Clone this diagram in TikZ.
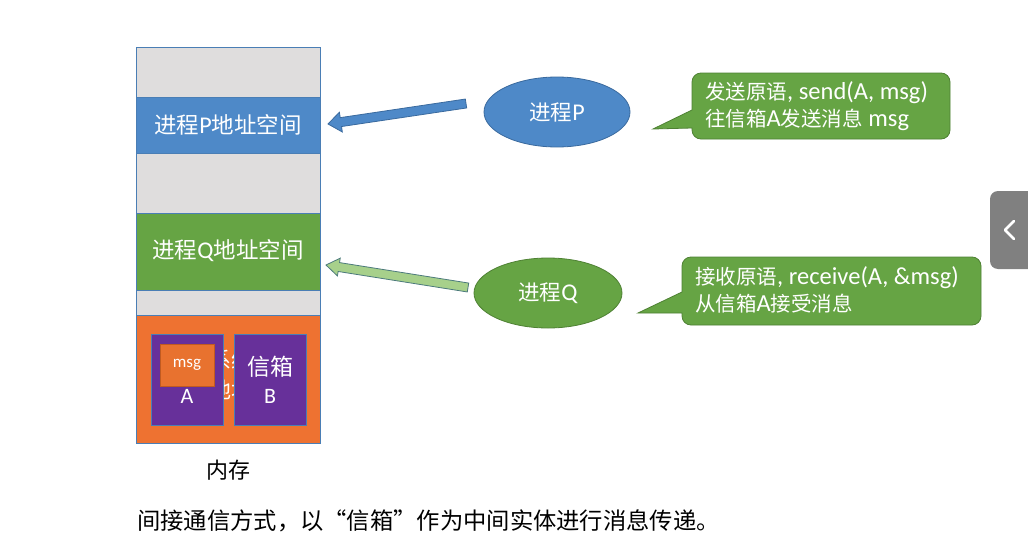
\documentclass[tikz,border=0pt]{standalone}
\usepackage{fontspec}
\setmainfont{Carlito}
\newfontfamily\cjk{Noto Sans CJK SC}
\usetikzlibrary{calc,shapes.geometric}
\definecolor{segGray}{HTML}{DFDDDD}
\definecolor{segLine}{HTML}{4A7EB5}
\definecolor{pBlue}{HTML}{4E89C8}
\definecolor{pBlueDark}{HTML}{3A6A9E}
\definecolor{qGreen}{HTML}{66A444}
\definecolor{qGreenDark}{HTML}{4E8133}
\definecolor{memOrange}{HTML}{EE7231}
\definecolor{msgOrange}{HTML}{E8722F}
\definecolor{msgLine}{HTML}{C05A20}
\definecolor{boxPurple}{HTML}{67309A}
\definecolor{arrQ}{HTML}{A7D08B}
\definecolor{arrQLine}{HTML}{4C7A7C}
\definecolor{tabGray}{HTML}{808080}
\newcommand{\zh}[1]{{\cjk #1}}
\tikzset{
  seg/.style={draw=segLine, line width=0.8pt},
  segtext/.style={text=white, font=\fontsize{24}{28}\selectfont},
  proc/.style={ellipse, minimum width=146pt, minimum height=70pt, line width=0.8pt, inner sep=0pt, text=white, font=\fontsize{24}{28}\selectfont},
  callout/.style={fill=qGreen, draw=qGreenDark, line width=0.8pt},
  calltext/.style={text=white, align=left, anchor=west, inner sep=0pt, font=\fontsize{24.5}{27}\selectfont},
  mbox/.style={fill=boxPurple, draw=segLine, line width=0.8pt},
}
\newcommand{\blockarrow}[5]{% tail, tip, fill, draw, head half width
  \filldraw[fill=#3, draw=#4, line width=0.8pt, line join=miter]
    ($(#1)!4.5pt!90:(#2)$) --
    ($($(#2)!13pt!(#1)$)!4.5pt!-90:(#1)$) --
    ($($(#2)!13pt!(#1)$)!#5!-90:(#1)$) --
    (#2) --
    ($($(#2)!13pt!(#1)$)!#5!90:(#1)$) --
    ($($(#2)!13pt!(#1)$)!4.5pt!90:(#1)$) --
    ($(#1)!4.5pt!-90:(#2)$) -- cycle;}
\begin{document}
\begin{tikzpicture}[x=1pt,y=-1pt]
\useasboundingbox (0,0) rectangle (1028,541);
\fill[white] (0,0) rectangle (1028,541);

% memory column
\filldraw[seg, fill=segGray] (136,47) rectangle (320,97);
\filldraw[seg, fill=pBlue] (136,97) rectangle (320,153);
\node[segtext] (memP) at (228,125) {{\cjk\fontsize{22.5}{28}\selectfont 进程}P{\cjk\fontsize{22.5}{28}\selectfont 地址空间}};
\filldraw[seg, fill=segGray] (136,153) rectangle (320,213);
\filldraw[seg, fill=qGreen] (136,213) rectangle (320,290);
\node[segtext] (memQ) at (228,251) {{\cjk\fontsize{22.5}{28}\selectfont 进程}Q{\cjk\fontsize{22.5}{28}\selectfont 地址空间}};
\filldraw[seg, fill=segGray] (136,290) rectangle (320,315);
\filldraw[seg, fill=memOrange] (136,315) rectangle (320,443);
\node[text=white, align=center, font=\cjk\fontsize{22}{30}\selectfont] (sysText) at (231,375) {系统\\地址};

% mailboxes
\filldraw[mbox] (151,334) rectangle (223,425);
\filldraw[fill=msgOrange, draw=msgLine, line width=0.8pt] (160,344) rectangle (214,386);
\node[text=white, font=\fontsize{17}{20}\selectfont] (msgA) at (187,365) {msg};
\node[text=white, font=\fontsize{22}{24}\selectfont] (labA) at (187,396) {A};
\filldraw[mbox] (234,334) rectangle (306,425);
\node[text=white, font=\cjk\fontsize{23}{26}\selectfont] (boxB) at (270,367) {信箱};
\node[text=white, font=\fontsize{22}{24}\selectfont] (labB) at (270,396) {B};

\node[font=\cjk\fontsize{22}{24}\selectfont] (mem) at (228,470) {内存};
\node[anchor=west, font=\cjk\fontsize{23.3}{26}\selectfont, inner sep=0pt] (caption) at (137,521) {间接通信方式，以“信箱”作为中间实体进行消息传递。};

% processes
\node[proc, fill=pBlue, draw=pBlueDark] (procP) at (557,112) {{\cjk\fontsize{21.5}{28}\selectfont 进程}P};
\node[proc, fill=qGreen, draw=qGreenDark, minimum width=148pt] (procQ) at (548,293) {{\cjk\fontsize{21.5}{28}\selectfont 进程}Q};

% arrows
\coordinate (pTail) at (466,103.5);
\coordinate (pTip) at (328,124);
\blockarrow{pTail}{pTip}{pBlue}{pBlueDark}{10pt}
\coordinate (qTail) at (468,287.5);
\coordinate (qTip) at (326,265);
\blockarrow{qTail}{qTip}{arrQ}{arrQLine}{9pt}

% callouts
\draw[callout] (692,110) -- (653,129) -- (692,128) [rounded corners=9pt] -- (692,139) -- (950,139) -- (950,73) -- (692,73) [sharp corners] -- cycle;
\node[calltext] (sendText) at (705,106) {{\cjk\fontsize{20.5}{27}\selectfont 发送原语}, send(A, msg)\\{\cjk\fontsize{20.5}{27}\selectfont 往信箱}A{\cjk\fontsize{20.5}{27}\selectfont 发送消息} msg};
\draw[callout] (682,292) -- (638,313) -- (682,313) [rounded corners=9pt] -- (682,325) -- (981,325) -- (981,257) -- (682,257) [sharp corners] -- cycle;
\node[calltext] (recvText) at (695,290) {{\cjk\fontsize{20.5}{27}\selectfont 接收原语}, receive(A, \&msg)\\{\cjk\fontsize{20.5}{27}\selectfont 从信箱}A{\cjk\fontsize{20.5}{27}\selectfont 接受消息}};

% side tab
\fill[tabGray, rounded corners=8pt] (990,191) rectangle (1040,269);
\draw[white, line width=2.6pt, line cap=round, line join=round] (1014,221) -- (1005,230) -- (1014,239);
\end{tikzpicture}
\end{document}
